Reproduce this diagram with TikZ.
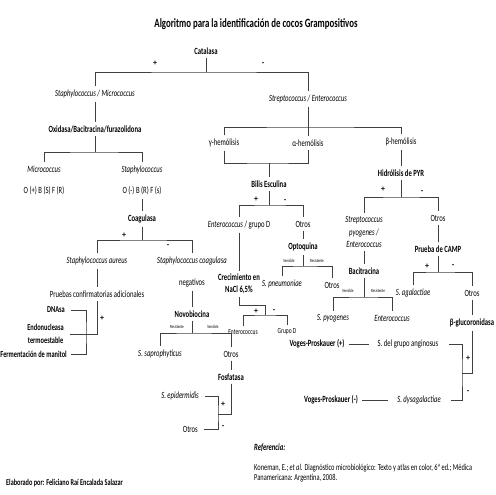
\documentclass[tikz,border=0pt]{standalone}
\usepackage{fontspec}
\setmainfont{Carlito}[FakeStretch=0.70]
\newfontfamily\signfont{Carlito}
\usetikzlibrary{positioning}

\newcommand{\bsz}{\fontsize{9.5}{11.5}\selectfont}

\tikzset{
    every node/.style={inner sep=1pt, outer ysep=2.5pt},
    test/.style={font=\bsz\bfseries},
    org/.style={font=\bsz\itshape},
    txt/.style={font=\bsz},
    conf/.style={font=\fontsize{9.1}{12.5}\selectfont\bfseries},
    sgn/.style={font=\signfont\fontsize{8}{9}\selectfont\bfseries, inner sep=0pt},
    mini/.style={font=\fontsize{4.7}{5.5}\selectfont},
    smallent/.style={font=\fontsize{7.8}{9}\selectfont},
    link/.style={draw=black!75, line width=0.6pt},
}

\begin{document}
\begin{tikzpicture}[x=1pt, y=-1pt]
    \useasboundingbox (0,0) rectangle (495,495);

    % Title
    \node [font=\fontsize{12.6}{14}\selectfont\bfseries] (title) at (256,24) {Algoritmo para la identificación de cocos Grampositivos};

    % Catalasa - top split
    \node [test] (cat) at (206,51) {Catalasa};
    \node [sgn] (catplus) at (155,63) {+};
    \node [sgn] (catminus) at (263,64) {-};
    \coordinate (kcat) at (206,72);
    \draw [link] (cat) -- (kcat);

    % Left branch - Staphylococcus / Micrococcus
    \node [org] (staphmicro) at (95,94) {Staphylococcus / Micrococcus};
    \node [test] (oxid) at (95,129) {Oxidasa/Bacitracina/furazolidona};
    \node [org] (micro) at (44,169) {Micrococcus};
    \node [txt] (ofr1) at (44,191) {O (+) B (S) F (R)};
    \node [org] (staph) at (142,170) {Staphylococcus};
    \node [txt] (ofr2) at (142,191) {O (-) B (R) F (s)};
    \node [test] (coag) at (142,219) {Coagulasa};
    \node [sgn] (coaplus) at (124,235) {+};
    \node [sgn] (coaminus) at (168,246) {-};
    \node [org] (aureus) at (97,261) {Staphylococcus aureus};
    \node [org] (scn) at (192,261) {Staphylococcus coagulasa};
    \node [txt] (negat) at (192,283) {negativos};
    \node [txt] (pruebas) at (97,294) {Pruebas confirmatorias adicionales};

    % Confirmatory tests
    \node [conf, anchor=east] (dnasa) at (66,310) {DNAsa};
    \node [conf, anchor=east, align=center] (endo) at (65,334) {Endonucleasa\\termoestable};
    \node [conf, anchor=east] (ferm) at (68,354) {Fermentación de manitol};
    \node [sgn] (pruplus) at (102,318) {+};
    \coordinate (kpru) at (86,333);

    % Novobiocina
    \node [test] (novo) at (192,314) {Novobiocina};
    \node [mini] (res1) at (177,327) {Resistente};
    \node [mini] (sen1) at (213,327) {Sensible};
    \node [org] (sapro) at (160,354) {S. saprophyticus};
    \node [txt] (otros1) at (231,354) {Otros};
    \node [test] (fosf) at (231,377) {Fosfatasa};
    \node [org, anchor=east] (epi) at (200,396) {S. epidermidis};
    \node [txt, anchor=east] (otros2) at (199,429) {Otros};
    \node [sgn] (fosplus) at (223,404) {+};
    \node [sgn] (fosminus) at (223,427) {-};
    \coordinate (kfos) at (218,414);

    % Right branch - Streptococcus / Enterococcus
    \node [org] (strent) at (308,99) {Streptococcus / Enterococcus};
    \node [txt] (gamma) at (224,143) {γ-hemólisis};
    \node [txt] (alpha) at (308,143) {α-hemólisis};
    \node [txt] (beta) at (401,142) {β-hemólisis};
    \coordinate (kstr) at (308,127);
    \coordinate (kgam) at (269,163);

    % Bilis Esculina
    \node [test] (bilis) at (269,184) {Bilis Esculina};
    \node [sgn] (bilplus) at (256,199) {+};
    \node [sgn] (bilminus) at (285,201) {-};
    \coordinate (kbil) at (269,205);
    \node [txt] (entd) at (239,225) {\textit{Enterococcus} / grupo D};
    \node [txt] (otros3) at (303,224) {Otros};
    \node [test, align=center] (crec) at (239,284) {Crecimiento en\\NaCl 6,5\%};
    \coordinate (kcre1) at (265,305);
    \coordinate (kcre) at (265,315);
    \node [sgn] (creplus) at (256,311) {+};
    \node [sgn] (creminus) at (274,311) {-};
    \node [smallent] (entc) at (243,332) {Enterococcus};
    \node [smallent] (grpd) at (287,332) {Grupo D};

    % Optoquina
    \node [test] (opto) at (303,247) {Optoquina};
    \node [mini] (sen2) at (289,261) {Sensible};
    \node [mini] (res2) at (317,261) {Resistente};
    \coordinate (kopt) at (303,266);
    \node [org] (pneu) at (282,284) {S. pneumoniae};
    \node [txt] (otros4) at (332,285) {Otros};

    % Hidrolisis de PYR
    \node [test] (pyr) at (401,173) {Hidrólisis de PYR};
    \node [sgn] (pyrplus) at (383,189) {+};
    \node [sgn] (pyrminus) at (422,192) {-};
    \coordinate (kpyr) at (401,197);
    \node [org, align=center, font=\fontsize{9.5}{12.5}\selectfont\itshape] (spy) at (364,232) {Streptococcus\\pyogenes /\\Enterococcus};
    \node [txt] (otros5) at (438,218) {Otros};
    \node [test] (baci) at (364,271) {Bacitracina};
    \node [mini] (sen3) at (348,291) {Sensible};
    \node [mini] (res3) at (378,291) {Resistente};
    \coordinate (kbac) at (364,297);
    \node [org] (spyo) at (333,318) {S. pyogenes};
    \node [org] (ent2) at (392,318) {Enterococcus};

    % Prueba de CAMP
    \node [test] (camp) at (438,249) {Prueba de CAMP};
    \node [sgn] (camplus) at (427,266) {+};
    \node [sgn] (camminus) at (453,266) {-};
    \coordinate (kcam) at (438,272);
    \node [org] (agal) at (413,293) {S. agalactiae};
    \node [txt] (otros6) at (472,293) {Otros};
    \node [test] (bgluc) at (472,323) {β-glucoronidasa};
    \coordinate (kglu) at (462,373);
    \node [txt] (angi) at (408,344) {S. del grupo anginosus};
    \node [org] (dysg) at (419,400) {S. dysagalactiae};
    \node [test] (vpp) at (317,344) {Voges-Proskauer (+)};
    \node [test] (vpm) at (331,400) {Voges-Proskauer (-)};
    \node [sgn] (gluplus) at (468,358) {+};
    \node [sgn] (gluminus) at (468,392) {-};

    % Footer and reference
    \node [anchor=west, font=\fontsize{8.9}{10}\selectfont\bfseries] (autor) at (5,483) {Elaborado por: Feliciano Raí Encalada Salazar};
    \node [anchor=west, font=\bsz\bfseries\itshape] (refhead) at (253,448) {Referencia:};
    \node [anchor=north west, align=left, font=\fontsize{9.1}{9.5}\selectfont] (refbody) at (253,461) {Koneman, E.; \textit{et al.} Diagnóstico microbiológico: Texto y atlas en color, 6ª ed.; Médica\\Panamericana: Argentina, 2008.};

    % Connectors - left half
    \draw [link] (staphmicro) |- (kcat) -| (strent);
    \draw [link] (staphmicro) -- (oxid);
    \draw [link] (oxid) -- (95,152) coordinate (koxi);
    \draw [link] (micro) |- (koxi) -| (staph);
    \draw [link] (ofr2) -- (coag);
    \draw [link] (coag) -- (142,240) coordinate (kcoa);
    \draw [link] (aureus) |- (kcoa) -| (scn);
    \draw [link] (aureus) -- (pruebas);
    \draw [link, shorten <=5pt] (endo) -| (pruebas);
    \draw [link, shorten <=5pt, shorten >=3pt] (dnasa) -| (kpru) |- (ferm);
    \draw [link] (negat) -- (novo);
    \draw [link] (novo) -- (192,333) coordinate (knov);
    \draw [link] (sapro) |- (knov) -| (otros1);
    \draw [link] (otros1) -- (fosf);
    \draw [link] (fosf) |- (kfos);
    \draw [link, shorten <=5pt, shorten >=5pt] (epi) -| (kfos) |- (otros2);

    % Connectors - right half
    \draw [link] (strent) -- (alpha);
    \draw [link] (gamma) |- (kstr) -| (beta);
    \draw [link] (gamma) |- (kgam) -| (alpha);
    \draw [link] (kgam) -- (bilis);
    \draw [link] (bilis) -- (kbil);
    \draw [link] (entd) |- (kbil) -| (otros3);
    \draw [link] (entd) -- (crec);
    \draw [link] (crec) |- (kcre1) -- (kcre);
    \draw [link] (entc) |- (kcre) -| (grpd);
    \draw [link] (otros3) -- (opto);
    \draw [link] (opto) -- (kopt);
    \draw [link] (pneu) |- (kopt) -| (otros4);
    \draw [link] (beta) -- (pyr);
    \draw [link] (pyr) -- (kpyr);
    \draw [link] (spy) |- (kpyr) -| (otros5);
    \draw [link] (spy) -- (baci);
    \draw [link] (baci) -- (kbac);
    \draw [link] (spyo) |- (kbac) -| (ent2);
    \draw [link] (otros5) -- (camp);
    \draw [link] (camp) -- (kcam);
    \draw [link] (agal) |- (kcam) -| (otros6);
    \draw [link] (otros6) -- (bgluc);
    \draw [link] (bgluc) |- (kglu);
    \draw [link, shorten <=10pt, shorten >=9pt] (angi) -| (kglu) |- (dysg);
    \draw [link, shorten <=3pt, shorten >=8pt] (vpp) -- (angi);
    \draw [link, shorten <=3pt, shorten >=8pt] (vpm) -- (dysg);

\end{tikzpicture}
\end{document}
